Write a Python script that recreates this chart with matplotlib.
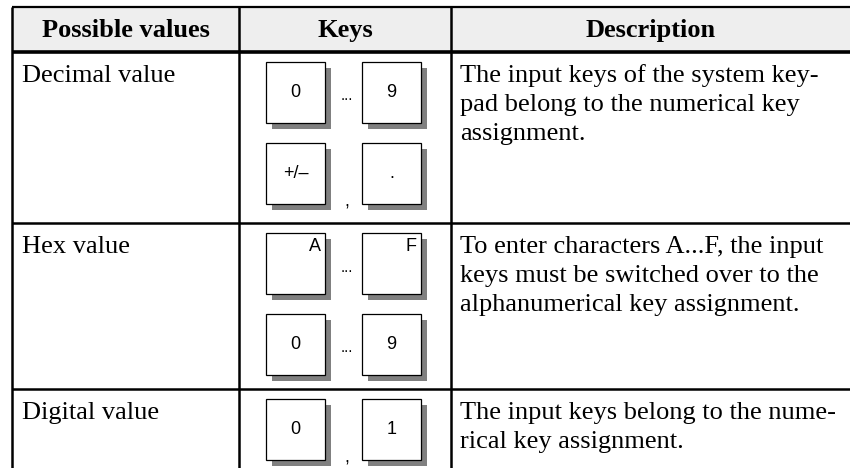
import matplotlib.pyplot as plt
from matplotlib.patches import Rectangle

headers = ['Possible values', 'Keys', 'Description']
row_labels = ['Decimal value', 'Hex value', 'Digital value']
descriptions = [
    ['The input keys of the system key-',
     'pad belong to the numerical key',
     'assignment.'],
    ['To enter characters A...F, the input',
     'keys must be switched over to the',
     'alphanumerical key assignment.'],
    ['The input keys belong to the nume-',
     'rical key assignment.'],
]
# each key pair: (first key, second key, separator)
key_pairs = [
    [('0', '9', '...'), ('+/\u2013', '.', ',')],
    [('A', 'F', '...'), ('0', '9', '...')],
    [('0', '1', ',')],
]
corner_labels = ['A', 'F']

# layout in pixels
col_x = [12, 239, 451, 850]
row_y = [7, 52, 223, 389, 480]
key_x = [266, 362]
key_w, key_h = 59, 61
shadow = 6
key_pitch = 81
line_h = 29

serif = 'Liberation Serif'
sans = 'Liberation Sans'

fig = plt.figure(figsize=(8.5, 4.68), dpi=100)
ax = fig.add_axes([0, 0, 1, 1])
ax.set_xlim(0, 850)
ax.set_ylim(468, 0)
ax.axis('off')

# header
ax.add_patch(Rectangle((col_x[0], row_y[0]), col_x[-1] - col_x[0], row_y[1] - row_y[0],
                       facecolor='#eeeeee', edgecolor='none', zorder=0))
for i, h in enumerate(headers):
    ax.text((col_x[i] + col_x[i + 1]) / 2, (row_y[0] + row_y[1]) / 2 + 1, h,
            ha='center', va='center', fontsize=19, fontweight='bold', family=serif)

# grid lines
ax.plot([col_x[0], col_x[-1]], [row_y[0], row_y[0]], color='black', lw=1.6, solid_capstyle='butt')
ax.plot([col_x[0], col_x[-1]], [row_y[1], row_y[1]], color='black', lw=2.6, solid_capstyle='butt')
for y in row_y[2:4]:
    ax.plot([col_x[0], col_x[-1]], [y, y], color='black', lw=1.8, solid_capstyle='butt')
for x in col_x[:3]:
    ax.plot([x, x], [row_y[0], row_y[-1]], color='black', lw=1.8, solid_capstyle='butt')

for r, label in enumerate(row_labels):
    top = row_y[r + 1]
    ax.text(col_x[0] + 10, top + 30, label, ha='left', va='baseline',
            fontsize=19, family=serif)
    for j, line in enumerate(descriptions[r]):
        ax.text(col_x[2] + 9, top + 30 + j * line_h, line, ha='left', va='baseline',
                fontsize=19, family=serif)
    for p, (k1, k2, sep) in enumerate(key_pairs[r]):
        ky = top + 10 + p * key_pitch
        for kx, lab in zip(key_x, (k1, k2)):
            ax.add_patch(Rectangle((kx + shadow, ky + shadow), key_w, key_h,
                                   facecolor='#808080', edgecolor='none', zorder=2))
            ax.add_patch(Rectangle((kx, ky), key_w, key_h, facecolor='white',
                                   edgecolor='black', lw=0.9, zorder=3))
            if lab in corner_labels:
                ax.text(kx + key_w - 4, ky + 5, lab, ha='right', va='top',
                        fontsize=13, family=sans, zorder=4)
            else:
                ax.text(kx + key_w / 2, ky + key_h / 2, lab, ha='center', va='center',
                        fontsize=13, family=sans, zorder=4)
        sx = (key_x[0] + key_w + shadow + key_x[1]) / 2
        if sep == ',':
            ax.text(sx, ky + key_h - 2, sep, ha='center', va='center',
                    fontsize=13, family=sans)
        else:
            ax.text(sx, ky + key_h / 2 + 4, sep, ha='center', va='center',
                    fontsize=11, family=sans)

fig.savefig('out.png', dpi=100)
